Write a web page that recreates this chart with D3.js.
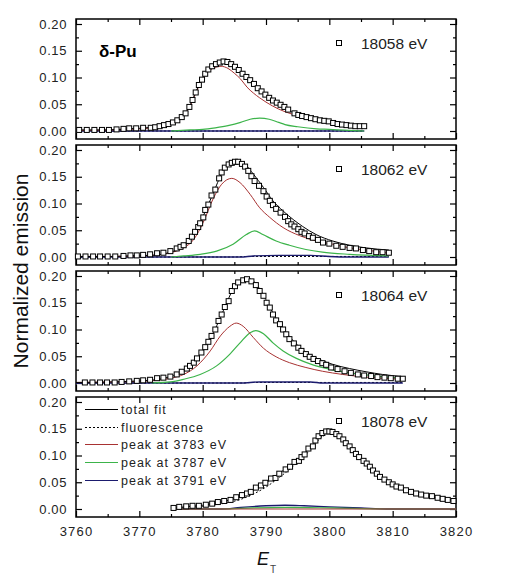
<!DOCTYPE html>
<html>
<head>
<meta charset="utf-8">
<script src="https://cdn.jsdelivr.net/npm/d3@7"></script>
<style>
	body { margin: 0; background: #fff; }
	svg { font-family: Arial, 'Liberation Sans', sans-serif; }
	.tick text { fill: #222; font-size: 13px; letter-spacing: 0.6px; }
	.xlab .tick text { letter-spacing: 1.2px; }
	.tick line { stroke: #000; stroke-width: 1.2px; }
</style>
</head>
<body>
<script>
// data
var panelLabels = ['18058 eV', '18062 eV', '18064 eV', '18078 eV'];
var xTicks = [3760, 3770, 3780, 3790, 3800, 3810, 3820];
var xMinorTicks = [3765, 3775, 3785, 3795, 3805, 3815];
var yTicks = [0, 0.05, 0.10, 0.15, 0.20];
var yMinorTicks = [0.025, 0.075, 0.125, 0.175];
var legendNames = ['total fit', 'fluorescence', 'peak at 3783 eV', 'peak at 3787 eV', 'peak at 3791 eV'];

// 18058 eV
var obs18058 = [[3760.5,0.002],[3761.7,0.002],[3762.9,0.002],[3764.1,0.002],[3765.2,0.002],[3766.4,0.003],[3767.5,0.004],[3768.4,0.005],[3769.5,0.005],[3770.6,0.006],
	[3771.8,0.006],[3772.5,0.007],[3773.2,0.009],[3773.9,0.011],[3774.6,0.013],[3775.3,0.016],[3776.0,0.020],[3776.7,0.026],[3777.3,0.033],[3777.9,0.045],
	[3778.4,0.058],[3778.9,0.072],[3779.4,0.086],[3779.9,0.096],[3780.4,0.107],[3780.9,0.115],[3781.5,0.121],[3782.1,0.125],[3782.7,0.128],[3783.3,0.130],
	[3783.9,0.129],[3784.5,0.125],[3785.1,0.120],[3785.7,0.114],[3786.3,0.107],[3786.9,0.101],[3787.5,0.095],[3788.1,0.088],[3788.7,0.080],[3789.3,0.074],
	[3789.9,0.068],[3790.5,0.062],[3791.1,0.057],[3791.7,0.053],[3792.3,0.049],[3792.9,0.045],[3793.5,0.040],[3794.5,0.033],[3795.1,0.030],[3795.7,0.028],
	[3796.4,0.026],[3797.1,0.024],[3797.8,0.022],[3798.5,0.020],[3799.2,0.019],[3799.9,0.018],[3800.6,0.015],[3801.3,0.013],[3802.0,0.012],[3802.7,0.011],
	[3803.4,0.010],[3804.1,0.009],[3804.8,0.009],[3805.5,0.009]];
var fit18058 = [[3760,0.002],[3765,0.002],[3768,0.004],[3770,0.005],[3772,0.007],[3774,0.011],[3775.5,0.016],[3777,0.030],[3778,0.048],[3779,0.075],[3780,0.100],
	[3781,0.117],[3782,0.125],[3783,0.129],[3784,0.128],[3785,0.121],[3786,0.110],[3787,0.100],[3788,0.089],[3789,0.077],[3790,0.066],[3791,0.057],[3792,0.050],
	[3793,0.043],[3794,0.036],[3795,0.031],[3796,0.027],[3798,0.021],[3800,0.017],[3802,0.012],[3804,0.010],[3805.5,0.009]];
var fluor18058 = [[3760,0],[3805.5,0]];
var p3783_18058 = [[3760,0.001],[3766,0.002],[3770,0.004],[3772,0.006],[3774,0.010],[3775.5,0.015],[3777,0.029],[3778,0.046],[3779,0.073],[3780,0.097],
	[3781,0.112],[3782,0.119],[3782.9,0.121],[3784,0.117],[3785,0.108],[3786,0.097],[3787,0.082],[3788,0.071],[3789,0.062],[3790,0.054],[3791,0.047],
	[3792,0.041],[3793,0.036],[3794,0.032],[3795,0.029],[3796,0.026],[3798,0.021],[3800,0.017],[3802,0.013],[3804,0.010],[3805.5,0.008]];
var p3787_18058 = [[3775,0],[3778,0.002],[3780,0.003],[3782,0.006],[3784,0.010],[3786,0.016],[3787.5,0.022],[3789,0.024],[3790.5,0.022],[3792,0.016],
	[3793,0.012],[3795,0.008],[3798,0.004],[3800,0.003],[3803,0.001],[3805.5,0]];
var p3791_18058 = [[3760,0],[3805.5,0]];

// 18062 eV
var obs18062 = [[3760.3,0.001],[3761.5,0.001],[3762.7,0.001],[3763.8,0.001],[3765.0,0.001],[3766.2,0.001],[3767.5,0.002],[3768.6,0.003],[3769.6,0.003],[3770.6,0.004],
	[3771.7,0.005],[3772.8,0.007],[3773.8,0.008],[3774.9,0.011],[3775.9,0.016],[3776.5,0.019],[3777.0,0.022],[3777.8,0.030],[3778.3,0.038],[3778.8,0.047],
	[3779.3,0.056],[3779.6,0.063],[3780.1,0.074],[3780.4,0.088],[3780.9,0.098],[3781.4,0.115],[3782.0,0.126],[3782.6,0.147],[3783.0,0.158],[3783.5,0.167],
	[3784.1,0.173],[3784.6,0.176],[3785.1,0.178],[3785.6,0.178],[3786.2,0.174],[3786.7,0.169],[3787.2,0.161],[3787.7,0.151],[3788.2,0.142],[3788.9,0.133],
	[3789.6,0.123],[3790.1,0.113],[3790.6,0.105],[3791.1,0.097],[3791.6,0.090],[3792.3,0.083],[3793.0,0.075],[3793.5,0.067],[3794.0,0.061],[3794.5,0.057],
	[3795.1,0.052],[3795.6,0.047],[3796.1,0.044],[3796.8,0.039],[3797.4,0.036],[3798.2,0.032],[3799.0,0.027],[3800.0,0.025],[3801.1,0.021],[3802.1,0.019],
	[3803.2,0.017],[3804.2,0.016],[3805.3,0.013],[3806.3,0.011],[3807.4,0.009],[3808.4,0.009],[3809.4,0.008]];
var fit18062 = [[3760,0.001],[3766,0.001],[3770,0.003],[3771.7,0.003],[3774.9,0.009],[3777,0.019],[3778.6,0.039],[3780.1,0.077],[3781.7,0.120],[3783,0.156],
	[3784.3,0.175],[3785.4,0.179],[3786.7,0.173],[3788,0.155],[3789.6,0.130],[3791.1,0.105],[3792.7,0.086],[3794.3,0.070],[3795.8,0.057],[3797.9,0.042],
	[3800.5,0.030],[3803.2,0.022],[3805.8,0.017],[3809.4,0.013]];
var fluor18062 = [[3760,0],[3785,0],[3787,0.001],[3809.4,0.001]];
var p3783_18062 = [[3760,0.001],[3766,0.001],[3770,0.002],[3771.7,0.003],[3774.9,0.008],[3777,0.017],[3778.6,0.033],[3780.1,0.065],[3781.7,0.110],[3783,0.136],
	[3784.6,0.147],[3785.9,0.139],[3787.5,0.117],[3789,0.092],[3790.6,0.074],[3792.7,0.055],[3795.3,0.040],[3797.9,0.030],[3800.5,0.024],[3803.2,0.017],
	[3805.8,0.013],[3809.4,0.007]];
var p3787_18062 = [[3775,0],[3777,0.002],[3779.6,0.005],[3782.2,0.011],[3784.8,0.024],[3786.9,0.042],[3788.2,0.049],[3789.5,0.042],[3791.6,0.030],
	[3793.7,0.022],[3796.3,0.014],[3798.9,0.009],[3803.2,0.005],[3809.4,0.002]];
var p3791_18062 = [[3760,0],[3786,0],[3788,0.002],[3792,0.003],[3797,0.003],[3800,0.001],[3803,0],[3809.4,0]];

// 18064 eV
var obs18064 = [[3761.4,0.001],[3762.6,0.001],[3763.8,0.001],[3764.9,0.001],[3766.1,0.001],[3767.2,0.002],[3768.4,0.003],[3769.6,0.004],[3770.6,0.005],
	[3771.7,0.006],[3772.8,0.009],[3773.8,0.010],[3774.9,0.012],[3775.9,0.016],[3776.7,0.021],[3777.5,0.027],[3778.0,0.032],[3778.6,0.038],[3779.1,0.046],
	[3779.8,0.057],[3780.4,0.067],[3780.9,0.077],[3781.4,0.088],[3782.0,0.100],[3782.5,0.116],[3783.0,0.128],[3783.5,0.142],[3784.1,0.153],[3784.6,0.172],
	[3785.1,0.181],[3785.6,0.188],[3786.4,0.192],[3787.0,0.194],[3787.7,0.190],[3788.4,0.183],[3789.0,0.172],[3789.6,0.163],[3790.1,0.150],[3790.6,0.141],
	[3791.1,0.128],[3791.6,0.117],[3792.2,0.110],[3792.7,0.100],[3793.2,0.091],[3793.7,0.082],[3794.4,0.074],[3795.1,0.066],[3795.6,0.060],[3796.3,0.054],
	[3796.9,0.049],[3797.5,0.045],[3798.2,0.041],[3798.9,0.037],[3799.5,0.034],[3800.3,0.029],[3801.3,0.026],[3802.4,0.022],[3803.4,0.019],[3804.5,0.016],
	[3805.5,0.014],[3806.6,0.013],[3807.6,0.011],[3808.7,0.010],[3809.7,0.009],[3810.8,0.008],[3811.6,0.008]];
var fit18064 = [[3760,0.001],[3766,0.002],[3770,0.004],[3771.7,0.005],[3774.9,0.012],[3777,0.022],[3779.1,0.046],[3781.2,0.082],[3783.3,0.136],[3784.8,0.175],
	[3786.2,0.192],[3787,0.196],[3788,0.191],[3789.6,0.164],[3791.1,0.131],[3792.7,0.102],[3794.3,0.079],[3795.8,0.062],[3797.9,0.047],[3800.5,0.035],
	[3803.2,0.027],[3805.8,0.021],[3808.4,0.016],[3811.6,0.012]];
var fluor18064 = [[3760,0],[3786,0],[3788,0.001],[3811.6,0.001]];
var p3783_18064 = [[3760,0.001],[3766,0.002],[3770,0.003],[3771.7,0.004],[3774.9,0.009],[3777,0.016],[3779.1,0.032],[3781.2,0.060],[3782.8,0.088],[3784.3,0.106],
	[3785.3,0.112],[3786.4,0.106],[3788,0.085],[3789.6,0.065],[3791.6,0.049],[3793.7,0.038],[3796.3,0.029],[3798.9,0.022],[3802.1,0.016],[3805.8,0.011],
	[3811.6,0.007]];
var p3787_18064 = [[3772,0],[3774.9,0.002],[3777,0.007],[3779.6,0.016],[3782.2,0.032],[3784.3,0.054],[3785.9,0.075],[3787.5,0.094],[3788.4,0.098],
	[3789.6,0.092],[3791.1,0.075],[3792.7,0.060],[3794.8,0.046],[3797.4,0.034],[3800,0.026],[3803.2,0.019],[3807.4,0.013],[3811.6,0.009]];
var p3791_18064 = [[3760,0],[3786,0],[3789,0.002],[3797,0.002],[3799,0],[3811.6,0]];

// 18078 eV
var obs18078 = [[3775.4,0.002],[3776.3,0.004],[3777.4,0.005],[3778.4,0.006],[3779.4,0.006],[3780.5,0.008],[3781.5,0.010],[3782.4,0.013],[3783.4,0.015],
	[3784.4,0.017],[3785.3,0.022],[3786.2,0.026],[3787.0,0.029],[3787.6,0.032],[3788.4,0.040],[3789.2,0.044],[3789.9,0.049],[3790.8,0.057],[3791.5,0.058],
	[3792.1,0.066],[3793.1,0.074],[3793.8,0.079],[3794.5,0.088],[3795.2,0.090],[3795.6,0.097],[3796.1,0.102],[3796.7,0.113],[3797.4,0.117],[3797.8,0.128],
	[3798.3,0.136],[3798.9,0.142],[3799.5,0.145],[3800.0,0.145],[3800.5,0.144],[3801.1,0.140],[3801.6,0.136],[3802.2,0.130],[3802.6,0.123],[3803.2,0.117],
	[3803.7,0.110],[3804.2,0.103],[3804.7,0.097],[3805.4,0.090],[3805.9,0.085],[3806.4,0.079],[3806.9,0.072],[3807.5,0.066],[3808.0,0.060],[3808.7,0.055],
	[3809.4,0.050],[3810.0,0.046],[3810.6,0.042],[3811.3,0.040],[3812.1,0.035],[3812.9,0.032],[3813.7,0.029],[3814.5,0.027],[3815.3,0.025],[3816.2,0.024],
	[3817.1,0.021],[3817.9,0.019],[3818.7,0.017],[3819.6,0.015]];
var fit18078 = [[3775.5,0.002],[3778,0.005],[3780,0.007],[3782,0.011],[3784,0.016],[3786,0.024],[3788,0.035],[3790,0.049],[3792,0.066],[3794,0.083],
	[3796,0.103],[3797.5,0.122],[3799,0.138],[3800,0.144],[3801,0.141],[3802,0.132],[3803,0.119],[3804,0.106],[3805,0.094],[3806,0.083],[3807,0.072],
	[3808,0.062],[3809,0.053],[3810,0.046],[3812,0.036],[3814,0.028],[3816,0.023],[3818,0.019],[3820,0.015]];
var fluor18078 = [[3775.5,0.001],[3778,0.003],[3780,0.005],[3782,0.008],[3784,0.012],[3786,0.018],[3788,0.028],[3790,0.041],[3792,0.058],[3794,0.077],
	[3796,0.098],[3797.5,0.118],[3799,0.136],[3800,0.143],[3801,0.141],[3802,0.132],[3803,0.119],[3804,0.106],[3805,0.094],[3806,0.083],[3807,0.072],
	[3808,0.062],[3809,0.053],[3810,0.046],[3812,0.036],[3814,0.028],[3816,0.023],[3818,0.019],[3820,0.015]];
var p3783_18078 = [[3775.5,0],[3820,0]];
var p3787_18078 = [[3775.5,0],[3783,0],[3788,0.002],[3793,0.003],[3800,0.002],[3809,0],[3820,0]];
var p3791_18078 = [[3775.5,0],[3783,0],[3786,0.003],[3790,0.006],[3793,0.007],[3796,0.006],[3800,0.004],[3805,0.002],[3809,0],[3820,0]];

var panels = [
	{ label: panelLabels[0], obs: obs18058, fit: fit18058, fluor: fluor18058, p1: p3783_18058, p2: p3787_18058, p3: p3791_18058 },
	{ label: panelLabels[1], obs: obs18062, fit: fit18062, fluor: fluor18062, p1: p3783_18062, p2: p3787_18062, p3: p3791_18062 },
	{ label: panelLabels[2], obs: obs18064, fit: fit18064, fluor: fluor18064, p1: p3783_18064, p2: p3787_18064, p3: p3791_18064 },
	{ label: panelLabels[3], obs: obs18078, fit: fit18078, fluor: fluor18078, p1: p3783_18078, p2: p3787_18078, p3: p3791_18078 },
];

// chart
var styles = {
	fit: { stroke: '#000', width: 1, dash: null },
	fluor: { stroke: '#000', width: 1, dash: '2,2' },
	p1: { stroke: '#a83232', width: 1, dash: null },
	p2: { stroke: '#3cb44a', width: 1.2, dash: null },
	p3: { stroke: '#1b1b6e', width: 1.4, dash: null },
};

var svg = d3.select('body')
	.append('svg')
	.attr('width', 508)
	.attr('height', 586);

var x = d3.scaleLinear().domain([3760, 3820]).range([76, 456]);
var panelH = 120;
var y = d3.scaleLinear().domain([0, 0.2]).range([112, 5]);

var line = d3.line()
	.x(function (d) { return x(d[0]); })
	.y(function (d) { return y(d[1]); })
	.curve(d3.curveMonotoneX);

panels.forEach(function (p, i) {
	var g = svg.append('g')
		.attr('transform', 'translate(0,' + (19 + i * 126) + ')');

	// axes (ticks point inward)
	g.append('g').attr('class', 'xlab').attr('transform', 'translate(0,' + panelH + ')')
		.call(d3.axisBottom(x).tickValues(xTicks).tickSize(-6).tickPadding(10)
			.tickFormat(i == 3 ? d3.format('d') : ''));
	g.append('g').attr('transform', 'translate(0,' + panelH + ')')
		.call(d3.axisBottom(x).tickValues(xMinorTicks).tickSize(-3).tickFormat(''));
	g.append('g')
		.call(d3.axisTop(x).tickValues(xTicks).tickSize(-6).tickFormat(''));
	g.append('g')
		.call(d3.axisTop(x).tickValues(xMinorTicks).tickSize(-3).tickFormat(''));
	g.append('g').attr('transform', 'translate(76,0)')
		.call(d3.axisLeft(y).tickValues(yTicks).tickSize(-6).tickPadding(9).tickFormat(d3.format('.2f')));
	g.append('g').attr('transform', 'translate(76,0)')
		.call(d3.axisLeft(y).tickValues(yMinorTicks).tickSize(-3).tickFormat(''));
	g.append('g').attr('transform', 'translate(456,0)')
		.call(d3.axisRight(y).tickValues(yTicks).tickSize(-6).tickFormat(''));
	g.append('g').attr('transform', 'translate(456,0)')
		.call(d3.axisRight(y).tickValues(yMinorTicks).tickSize(-3).tickFormat(''));
	g.selectAll('.domain').remove();

	g.append('rect')
		.attr('x', 76).attr('y', 0)
		.attr('width', 380).attr('height', panelH)
		.attr('fill', 'none')
		.attr('stroke', '#000')
		.attr('stroke-width', 1.5);

	// curves
	['fluor', 'p3', 'p2', 'p1', 'fit'].forEach(function (k) {
		g.append('path')
			.datum(p[k])
			.attr('d', line)
			.attr('fill', 'none')
			.attr('stroke', styles[k].stroke)
			.attr('stroke-width', styles[k].width)
			.attr('stroke-dasharray', styles[k].dash);
	});

	// measured points
	g.selectAll('rect.pt')
		.data(p.obs)
		.enter()
		.append('rect')
		.attr('class', 'pt')
		.attr('x', function (d) { return x(d[0]) - 2.5; })
		.attr('y', function (d) { return y(d[1]) - 2.5; })
		.attr('width', 5)
		.attr('height', 5)
		.attr('fill', '#fff')
		.attr('stroke', '#000')
		.attr('stroke-width', 1);

	// panel key
	g.append('rect')
		.attr('x', 336.5).attr('y', 21.5)
		.attr('width', 5).attr('height', 5)
		.attr('fill', '#fff').attr('stroke', '#000');
	g.append('text')
		.attr('x', 361).attr('y', 30)
		.attr('font-size', '15.5px')
		.attr('fill', '#222')
		.text(p.label);
});

svg.append('text')
	.attr('x', 99).attr('y', 57)
	.attr('font-size', '17px')
	.attr('font-weight', 'bold')
	.text('δ-Pu');

// legend in last panel
var keys = ['fit', 'fluor', 'p1', 'p2', 'p3'];
var legend = svg.append('g').attr('transform', 'translate(0,409.5)');
keys.forEach(function (k, j) {
	legend.append('line')
		.attr('x1', 85).attr('x2', 118)
		.attr('y1', Math.round(j * 17.7)).attr('y2', Math.round(j * 17.7))
		.attr('stroke', styles[k].stroke)
		.attr('stroke-width', 1)
		.attr('stroke-dasharray', styles[k].dash);
	legend.append('text')
		.attr('x', 121).attr('y', Math.round(j * 17.7) + 4)
		.attr('font-size', '12.5px')
		.attr('letter-spacing', '1px')
		.attr('fill', '#222')
		.text(legendNames[j]);
});

// axis titles
var xt = svg.append('text')
	.attr('x', 257).attr('y', 565)
	.attr('font-size', '18px')
	.attr('fill', '#111');
xt.append('tspan').attr('font-style', 'italic').text('E');
xt.append('tspan').attr('font-size', '10px').attr('dy', 8).attr('dx', 1).attr('fill', '#444').text('T');

svg.append('text')
	.attr('transform', 'translate(28,271) rotate(-90)')
	.attr('text-anchor', 'middle')
	.attr('font-size', '21px')
	.attr('fill', '#111')
	.text('Normalized emission');
</script>
</body>
</html>
